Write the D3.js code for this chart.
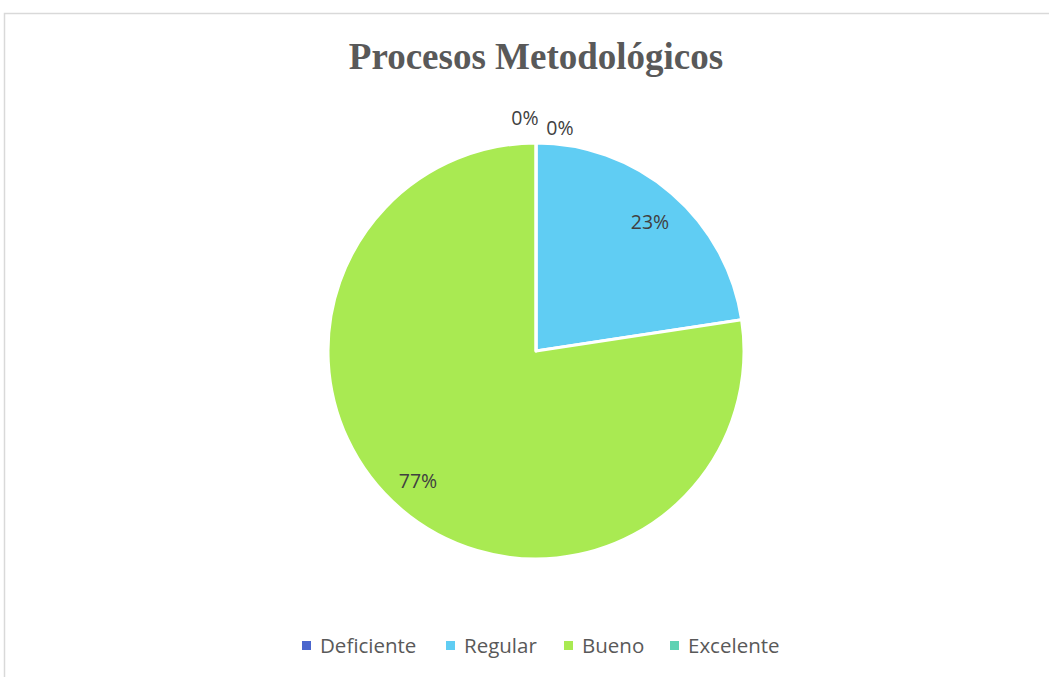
<!DOCTYPE html>
<html><head><meta charset="utf-8">
<script src="https://cdn.jsdelivr.net/npm/d3@7"></script>
<style>body{margin:0;background:#fff}</style>
</head><body>
<svg id="c" width="1049" height="677"></svg>
<script>
const categories = ["Deficiente", "Regular", "Bueno", "Excelente"];
const values = [0, 22.6, 77.4, 0];
const labels = ["0%", "23%", "77%", "0%"];
const colors = ["#4A66CD", "#60CDF3", "#A9EA52", "#5ED2B3"];

const svg = d3.select("#c");
svg.append("path").attr("d","M4.5,677 L4.5,13.5 L1049,13.5").attr("fill","none").attr("stroke","#d9d9d9").attr("stroke-width",1.5);

svg.append("text").attr("x",536).attr("y",69).attr("text-anchor","middle")
  .attr("font-family","'Liberation Serif','Times New Roman',serif").attr("font-weight","bold")
  .attr("font-size",37).attr("fill","#595959").text("Procesos Metodológicos");

const cx=536, cy=351, r=208;
const pie = d3.pie().sort(null).value(d=>d)(values);
const arc = d3.arc().innerRadius(0).outerRadius(r);
const g = svg.append("g").attr("transform",`translate(${cx},${cy})`);
g.selectAll("path").data(pie).enter().append("path")
  .attr("d",arc).attr("fill",(d,i)=>colors[i]).attr("stroke","#fff").attr("stroke-width",3).attr("stroke-linejoin","round");

// data labels
const labelPos = [[-11,-233],[114,-129],[-118,130],[24,-223]];
g.selectAll("text.l").data(pie).enter().append("text")
  .attr("x",(d,i)=>labelPos[i][0]).attr("y",(d,i)=>labelPos[i][1]+7)
  .attr("text-anchor","middle").attr("font-family","'Open Sans',sans-serif").attr("font-size",19.5)
  .attr("fill","#404040").text((d,i)=>labels[i]);

// legend
const legX = [302, 446, 564, 670];
const lg = svg.append("g");
categories.forEach((c,i)=>{
  lg.append("rect").attr("x",legX[i]).attr("y",641).attr("width",9).attr("height",9).attr("fill",colors[i]);
  lg.append("text").attr("x",legX[i]+18).attr("y",653).attr("font-family","'Open Sans',sans-serif")
    .attr("font-size",20.5).attr("fill","#595959").text(c);
});
</script>
</body></html>
